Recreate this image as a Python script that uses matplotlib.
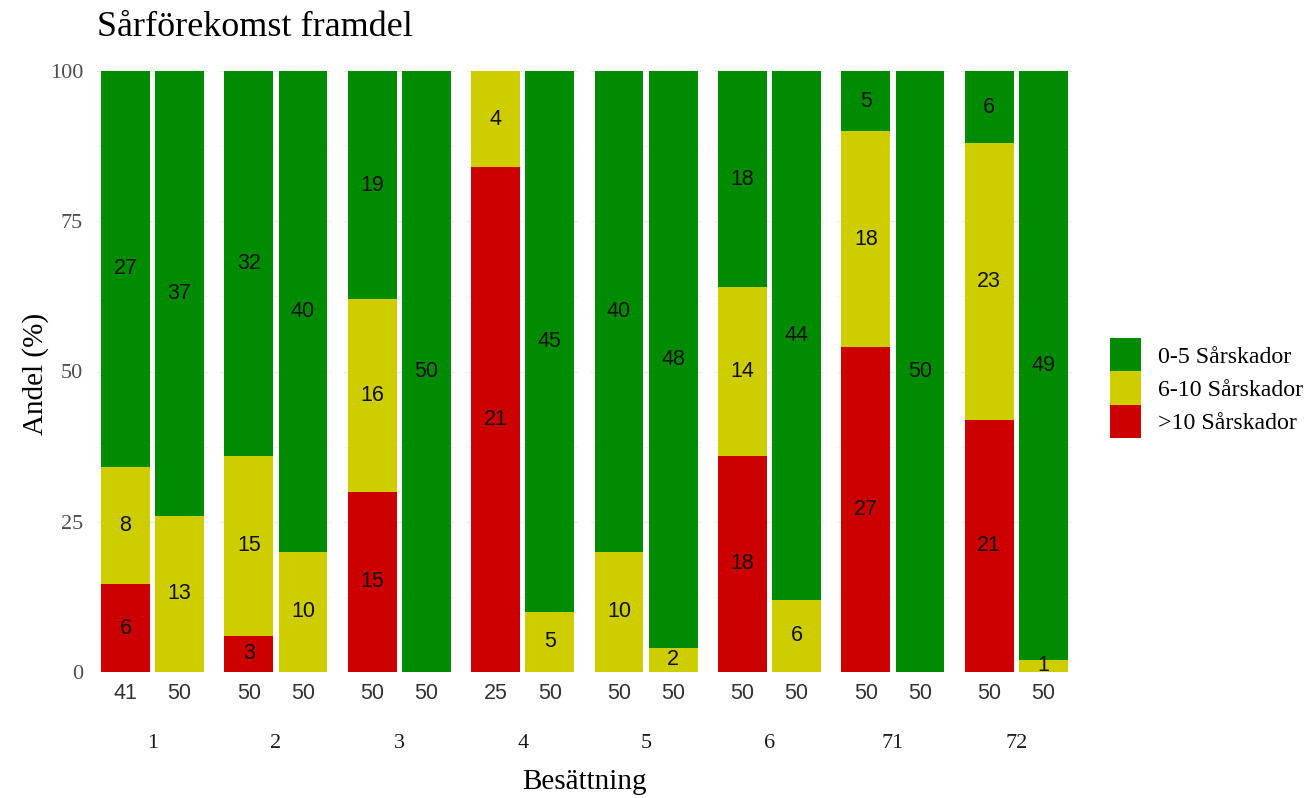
import numpy as np
import matplotlib
matplotlib.use("Agg")
import matplotlib.pyplot as plt
from matplotlib.patches import Patch

#====================== DATA ======================
groups = ['1', '2', '3', '4', '5', '6', '71', '72']

# first bar in each group
red_a = [6, 3, 15, 21, 0, 18, 27, 21]
yellow_a = [8, 15, 16, 4, 10, 14, 18, 23]
green_a = [27, 32, 19, 0, 40, 18, 5, 6]

# second bar in each group
red_b = [0, 0, 0, 0, 0, 0, 0, 0]
yellow_b = [13, 10, 0, 5, 2, 6, 0, 1]
green_b = [37, 40, 50, 45, 48, 44, 50, 49]

categories = ['>10 Sårskador', '6-10 Sårskador', '0-5 Sårskador']
colors = ['#CD0000', '#CDCD00', '#008B00']

yticks = [0, 25, 50, 75, 100]

#====================== STYLE ======================
serif = 'Liberation Serif'
sans = 'Liberation Sans'

W, H = 1312, 798
fig = plt.figure(figsize=(W / 100, H / 100), dpi=100)

left0 = 97
pw = 111
step = 123.4
bot = 672
top = 71

bar_w = 0.9

for i, g in enumerate(groups):
    ax = fig.add_axes([(left0 + i * step) / W, (H - bot) / H, pw / W, (bot - top) / H])
    bars = [[red_a[i], yellow_a[i], green_a[i]], [red_b[i], yellow_b[i], green_b[i]]]
    ns = []
    for j, counts in enumerate(bars):
        n = sum(counts)
        ns.append(n)
        base = 0
        for c, col in zip(counts, colors):
            pct = c / n * 100
            if c > 0:
                ax.bar(j + 1, pct, bottom=base, width=bar_w, color=col,
                       edgecolor='none', zorder=2)
                ax.text(j + 1, base + pct / 2, str(c), ha='center', va='center',
                        fontsize=15.5, family=sans, color='#111111', zorder=3)
            base += pct

    ax.set_xlim(0.475, 2.525)
    ax.set_ylim(0, 100)
    ax.set_yticks(yticks)
    ax.set_yticks([12.5, 37.5, 62.5, 87.5], minor=True)
    ax.grid(True, axis='y', which='major', color='#EBEBEB', lw=1.0, zorder=0)
    ax.grid(True, axis='y', which='minor', color='#F2F2F2', lw=0.6, zorder=0)
    ax.set_axisbelow(True)
    for s in ax.spines.values():
        s.set_visible(False)
    ax.set_xticks([1, 2])
    ax.set_xticklabels([str(v) for v in ns], family=sans, fontsize=15.5, color='#333333')
    ax.tick_params(axis='both', which='both', length=0)
    ax.tick_params(axis='x', pad=8)
    if i == 0:
        ax.set_yticklabels([str(v) for v in yticks], family=serif, fontsize=16, color='#4D4D4D')
        ax.tick_params(axis='y', pad=10)
    else:
        ax.set_yticklabels([])
    fig.text((left0 + i * step + pw / 2) / W, 1 - 748 / H, g, ha='center', va='baseline',
             family=serif, fontsize=16, color='#1A1A1A')

fig.text(97 / W, 1 - 36 / H, 'Sårförekomst framdel', ha='left', va='baseline',
         family=serif, fontsize=26, color='black')
fig.text((left0 + 7 * step + pw) / 2 / W + 0.5 * left0 / W, 1 - 789 / H, 'Besättning',
         ha='center', va='baseline', family=serif, fontsize=21)
fig.text(36 / W, 1 - 374 / H, 'Andel (%)', ha='center', va='center', rotation=90,
         family=serif, fontsize=21)

handles = [Patch(facecolor=c, edgecolor='none') for c in colors[::-1]]
fig.legend(handles, categories[::-1], loc='center left',
           bbox_to_anchor=(1110 / W, 1 - 388 / H), frameon=False,
           prop={'family': serif, 'size': 17.2}, handlelength=1.3, handleheight=1.75,
           labelspacing=0.0, handletextpad=0.72, borderpad=0, borderaxespad=0)

fig.savefig('out.png', dpi=100)
